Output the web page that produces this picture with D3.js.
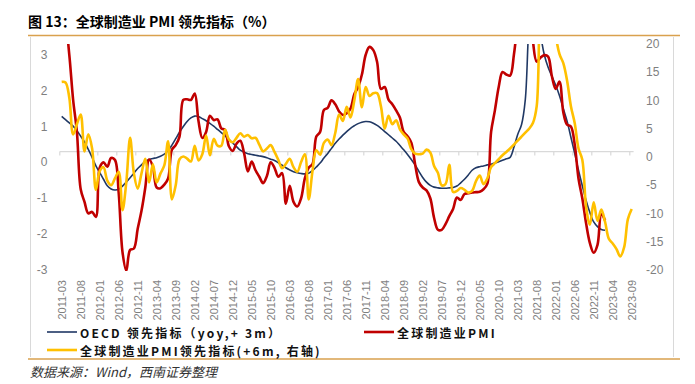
<!DOCTYPE html>
<html>
<head>
<meta charset="utf-8">
<script src="https://cdn.jsdelivr.net/npm/d3@7"></script>
<style>
  body { margin: 0; background: #fff; }
  svg { display: block; font-family: "Liberation Sans", Arial, "Noto Sans CJK SC", sans-serif; }
</style>
</head>
<body>
<div id="chart"></div>
<script>
// monthly categories start here, one value per month
const startMonth = '2011-03';
const monthCount = 151;

const tickLabels = ['2011-03', '2011-08', '2012-01', '2012-06', '2012-11', '2013-04',
    '2013-09', '2014-02', '2014-07', '2014-12', '2015-05', '2015-10', '2016-03',
    '2016-08', '2017-01', '2017-06', '2017-11', '2018-04', '2018-09', '2019-02',
    '2019-07', '2019-12', '2020-05', '2020-10', '2021-03', '2021-08', '2022-01',
    '2022-06', '2022-11', '2023-04', '2023-09'];

const leftTicks = [-3, -2, -1, 0, 1, 2, 3];
const rightTicks = [-20, -15, -10, -5, 0, 5, 10, 15, 20];

// OECD 领先指标 (yoy, +3m), left axis
const oecd = [
    1.28, 1.19, 1.10, 1.01, 0.88, 0.73, 0.57, 0.36, 0.14, -0.10,
    -0.28, -0.47, -0.65, -0.74, -0.77, -0.75, -0.66, -0.55, -0.43, -0.30,
    -0.17, -0.07, 0.03, 0.08, 0.11, 0.13, 0.17, 0.23, 0.33, 0.48,
    0.66, 0.84, 1.00, 1.14, 1.24, 1.29, 1.28, 1.22, 1.16, 1.09,
    1.01, 0.92, 0.83, 0.74, 0.64, 0.54, 0.44, 0.34, 0.28, 0.24,
    0.22, 0.20, 0.18, 0.16, 0.13, 0.09, 0.05, -0.01, -0.08, -0.15,
    -0.21, -0.26, -0.29, -0.31, -0.32, -0.30, -0.23, -0.13, -0.02, 0.12,
    0.25, 0.39, 0.53, 0.65, 0.76, 0.86, 0.95, 1.02, 1.08, 1.12,
    1.14, 1.13, 1.09, 1.03, 0.95, 0.86, 0.77, 0.68, 0.59, 0.47,
    0.35, 0.22, 0.08, -0.07, -0.25, -0.42, -0.55, -0.64, -0.69, -0.71,
    -0.72, -0.72, -0.71, -0.70, -0.66, -0.57, -0.47, -0.35, -0.22, -0.15,
    -0.12, -0.10, -0.07, -0.05, -0.02, 0.02, 0.06, 0.10, 0.14, 0.42,
    0.78, 1.05, 1.75, 3.90, 4.80, 4.60, 3.60, 3.00, 2.65, 2.40,
    2.15, 1.86, 1.50, 1.15, 0.70, 0.25, -0.22, -0.65, -1.06, -1.40,
    -1.66, -1.79, -1.87, -1.89
];

// 全球制造业PMI, left axis
const pmi = [
    4.20, 3.90, 3.00, 1.75, 0.85, -0.75, -1.10, -1.42, -1.38, -1.52,
    -0.15, 0.00, -0.12, 0.12, 0.07, -0.85, -2.50, -3.02, -2.44, -2.40,
    -1.85, -1.35, -0.70, 0.08, -0.12, -0.70, -0.72, -0.62, -0.45, 0.35,
    0.48, 0.72, 1.74, 1.76, 1.74, 1.92, 1.15, 0.68, 0.85, 1.30,
    1.18, 1.20, 0.95, 0.90, 0.45, 0.32, 0.52, 0.60, 0.25, -0.25,
    0.02, -0.22, -0.40, -0.58, -0.38, 0.00, -0.15, -0.40, -0.30, -1.15,
    -0.65, -1.10, -1.23, -1.00, -0.44, -0.15, -0.05, 0.72, 0.85, 1.46,
    1.52, 1.73, 1.62, 1.42, 1.32, 1.37, 1.50, 1.90, 2.10, 2.45,
    3.00, 3.22, 3.13, 2.80, 2.05, 2.10, 1.75, 1.62, 1.45, 1.25,
    0.85, 0.73, 0.55, -0.05, -0.55, -0.70, -0.78, -1.00, -1.55, -1.88,
    -1.88, -1.72, -1.50, -1.30, -0.98, -1.05, -0.88, -0.86, -0.84, -0.83,
    -0.82, -0.75, -0.60, 0.85, 1.45, 2.10, 2.52, 2.45, 2.42, 3.00,
    4.00, 5.50, 5.80, 5.00, 3.40, 2.81, 2.92, 2.99, 2.95, 2.40,
    2.05, 2.25, 1.40, 1.05, 1.00, 0.50, -0.45, -1.00, -1.70, -2.25,
    -2.52, -2.30, -1.45, -1.62
];

// 全球制造业PMI领先指标 (+6m), right axis
const pmiLead = [
    13.3, 13.2, 10.5, 4.0, 5.8, 7.5, 1.0, 4.0, 1.5, -5.8,
    -2.5, -1.8, -4.2, -5.0, -3.8, -2.6, -9.4, -4.5, 3.4, -2.9,
    -5.6, -2.9, -0.3, -4.5, -1.3, -4.5, -2.9, -1.5, 2.8, -7.5,
    -5.0, -0.4, 0.1, -0.3, -0.8, 2.0, -0.6, 0.5, 3.8, 0.3,
    3.2, 2.0, 2.0, 4.8, 3.1, 2.6, 3.4, 4.2, 3.6, 3.9,
    3.3, 3.4, 2.2, 1.0, 1.5, 2.1, 0.9, -0.5, -2.0, -1.2,
    -0.3, -1.8, -2.6, -0.9, 0.5, -7.5, -2.5, 1.2, 0.4, 2.5,
    3.1, 2.1, 4.3, 7.5, 6.4, 8.9, 7.0, 10.0, 13.8, 8.8,
    12.4, 10.8, 11.3, 11.3, 9.0, 5.0, 7.3, 5.8, 6.5, 4.9,
    4.0, 3.3, 1.4, 0.6, 0.5, 0.6, 1.3, 0.8, -1.6, -2.8,
    -5.0, -4.8, -1.4, -6.2, -6.0, -5.5, -5.8, -6.3, -6.0, -4.3,
    -3.3, -4.8, -3.8, -1.8, -1.1, -0.4, 0.3, 0.9, 1.5, 2.2,
    2.9, 3.6, 4.3, 5.0, 6.0, 9.0, 28.0, 32.0, 30.0, 27.0,
    21.5, 18.2, 16.6, 13.5, 9.0, 6.0, 1.5, -0.5, -8.8, -12.0,
    -8.0, -11.3, -9.3, -11.5, -14.5, -15.3, -16.3, -17.6, -16.0, -11.0,
    -9.2
];

const seriesNames = ['OECD 领先指标（yoy,+ 3m）', '全球制造业PMI', '全球制造业PMI领先指标(+6m, 右轴)'];
const xAxisCrossAt = 0.3; // horizontal axis crosses the left axis here

const width = 695;
const height = 384;
const colors = { oecd: '#203864', pmi: '#C00000', lead: '#FFC000' };
const accent = '#d9a14e';
const grey = '#d9d9d9';

const start = d3.timeParse('%Y-%m')(startMonth);
const months = d3.timeMonth.range(start, d3.timeMonth.offset(start, monthCount))
    .map(d3.timeFormat('%Y-%m'));

const svg = d3.select('#chart')
    .append('svg')
    .attr('width', width)
    .attr('height', height);

const x = d3.scaleBand().domain(months).range([59.8, 633.6]).padding(0);
const cx = (m) => x(m) + x.bandwidth() / 2;
const yL = d3.scaleLinear().domain([-3, 3.3]).range([270, 44]);
const yR = d3.scaleLinear().domain([-20, 20]).range([270, 44]);

// title and frame
svg.append('text')
    .attr('x', 28)
    .attr('y', 27)
    .attr('font-family', '"Noto Sans CJK SC", sans-serif')
    .attr('font-size', 14)
    .attr('font-weight', 'bold')
    .attr('fill', '#000')
    .text('图 13：全球制造业 PMI 领先指标（%）');

svg.append('line')
    .attr('x1', 28).attr('x2', 680)
    .attr('y1', 35.5).attr('y2', 35.5)
    .attr('stroke', accent).attr('stroke-width', 1.5);
svg.append('line')
    .attr('x1', 28).attr('x2', 680)
    .attr('y1', 359).attr('y2', 359)
    .attr('stroke', accent).attr('stroke-width', 1.5);

[30.5, 673.5].forEach((fx) => {
    svg.append('line')
        .attr('x1', fx).attr('x2', fx)
        .attr('y1', 37).attr('y2', 357)
        .attr('stroke', grey).attr('stroke-width', 1);
});

// y axis labels
svg.append('g')
    .selectAll('text')
    .data(leftTicks)
    .join('text')
    .attr('x', 47.5)
    .attr('y', d => yL(d))
    .attr('text-anchor', 'end')
    .attr('dominant-baseline', 'central')
    .attr('font-size', 12)
    .attr('fill', '#7f7f7f')
    .text(d => d);

svg.append('g')
    .selectAll('text')
    .data(rightTicks)
    .join('text')
    .attr('x', 646)
    .attr('y', d => yR(d))
    .attr('text-anchor', 'start')
    .attr('dominant-baseline', 'central')
    .attr('font-size', 12)
    .attr('fill', '#7f7f7f')
    .text(d => d);

// category axis line with ticks between categories
const axisY = yL(xAxisCrossAt);
const axis = svg.append('g').attr('stroke', grey).attr('stroke-width', 1.2);
axis.append('line')
    .attr('x1', x.range()[0]).attr('x2', x.range()[1])
    .attr('y1', axisY).attr('y2', axisY);
axis.selectAll('.tick')
    .data(tickLabels)
    .join('line')
    .attr('class', 'tick')
    .attr('x1', d => x(d)).attr('x2', d => x(d))
    .attr('y1', axisY).attr('y2', axisY + 4);

svg.append('g')
    .selectAll('text')
    .data(tickLabels)
    .join('text')
    .attr('transform', d => `translate(${cx(d)},280) rotate(-90)`)
    .attr('text-anchor', 'end')
    .attr('dominant-baseline', 'central')
    .attr('font-size', 11)
    .attr('fill', '#7f7f7f')
    .text(d => d);

// series
svg.append('clipPath')
    .attr('id', 'plot-clip')
    .append('rect')
    .attr('x', 58).attr('y', yL(3.3))
    .attr('width', 580).attr('height', yL(-3) - yL(3.3) + 1);

const plot = svg.append('g').attr('clip-path', 'url(#plot-clip)');

const lineFor = (scale) => d3.line()
    .x((d, i) => cx(months[i]))
    .y(d => scale(d))
    .curve(d3.curveCatmullRom.alpha(0.5));

plot.append('path')
    .datum(oecd)
    .attr('fill', 'none')
    .attr('stroke', colors.oecd)
    .attr('stroke-width', 1.6)
    .attr('d', lineFor(yL));

plot.append('path')
    .datum(pmi)
    .attr('fill', 'none')
    .attr('stroke', colors.pmi)
    .attr('stroke-width', 2.6)
    .attr('stroke-linejoin', 'round')
    .attr('d', lineFor(yL));

plot.append('path')
    .datum(pmiLead)
    .attr('fill', 'none')
    .attr('stroke', colors.lead)
    .attr('stroke-width', 2.6)
    .attr('stroke-linejoin', 'round')
    .attr('d', lineFor(yR));

// legend
const legendItems = [
    { name: seriesNames[0], color: colors.oecd, w: 1.6, x: 47, y: 332 },
    { name: seriesNames[1], color: colors.pmi, w: 2.6, x: 364, y: 332 },
    { name: seriesNames[2], color: colors.lead, w: 2.6, x: 47, y: 350 }
];

const legend = svg.append('g')
    .selectAll('g')
    .data(legendItems)
    .join('g')
    .attr('transform', d => `translate(${d.x},${d.y})`);

legend.append('line')
    .attr('x1', 0).attr('x2', 30)
    .attr('stroke', d => d.color)
    .attr('stroke-width', d => d.w);

legend.append('text')
    .attr('x', 33)
    .attr('dominant-baseline', 'central')
    .attr('font-family', '"Noto Sans CJK SC", sans-serif')
    .attr('font-size', 12)
    .attr('letter-spacing', 2.2)
    .attr('font-weight', 'bold')
    .attr('fill', '#111')
    .text(d => d.name);

// source note
svg.append('text')
    .attr('x', 30)
    .attr('y', 377)
    .attr('font-family', '"Noto Sans CJK SC", sans-serif')
    .attr('font-size', 13)
    .attr('font-style', 'italic')
    .attr('fill', '#333')
    .text('数据来源：Wind，西南证券整理');
</script>
</body>
</html>
